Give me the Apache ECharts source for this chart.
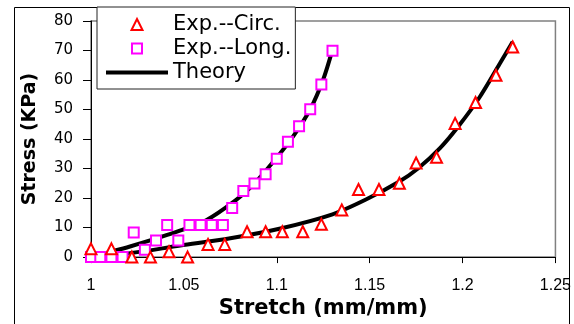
<!DOCTYPE html>
<html>
<head>
<meta charset="utf-8">
<script src="https://cdn.jsdelivr.net/npm/echarts@6/dist/echarts.min.js"></script>
<style>html,body{margin:0;padding:0;background:#fff}#c{width:574px;height:324px}</style>
</head>
<body>
<div id="c"></div>
<script>
// Tick labels / axis ranges
var xTicks = [1, 1.05, 1.1, 1.15, 1.2, 1.25];
var yTicks = [0, 10, 20, 30, 40, 50, 60, 70, 80];

// Exp.--Circ. (triangles)
var circX = [1.000, 1.011, 1.022, 1.032, 1.042, 1.052, 1.063, 1.072, 1.084, 1.094, 1.103, 1.114, 1.124, 1.135, 1.144, 1.155, 1.166, 1.175, 1.186, 1.196, 1.207, 1.218, 1.227];
var circY = [2.8, 2.8, 0, 0, 1.8, 0, 4.3, 4.3, 8.6, 8.6, 8.6, 8.6, 11.1, 16.0, 22.9, 22.9, 25.0, 31.9, 33.8, 45.3, 52.4, 61.6, 71.2];

// Exp.--Long. (squares)
var longX = [1.000, 1.005, 1.011, 1.017, 1.023, 1.029, 1.035, 1.041, 1.047, 1.053, 1.059, 1.065, 1.071, 1.076, 1.082, 1.088, 1.094, 1.100, 1.106, 1.112, 1.118, 1.124, 1.130];
var longY = [0, 0, 0, 0, 8.3, 2.5, 5.6, 10.9, 5.6, 10.9, 10.9, 10.9, 10.9, 16.6, 22.4, 24.9, 28.1, 33.3, 39.1, 44.3, 50.1, 58.5, 69.9];

// Theory curves
var thCircX = [1.000, 1.021, 1.048, 1.075, 1.102, 1.130, 1.148, 1.166, 1.176, 1.188, 1.198, 1.209, 1.220, 1.227];
var thCircY = [0, 1.3, 3.9, 6.4, 9.7, 14.5, 19.5, 25.6, 30.0, 37.0, 44.5, 54.0, 65.5, 73.0];
var thLongX = [1.000, 1.021, 1.041, 1.062, 1.078, 1.087, 1.098, 1.109, 1.118, 1.125, 1.130];
var thLongY = [0, 3.6, 7.5, 12.5, 19.3, 24.3, 32.2, 41.1, 50.1, 60.2, 70.3];

function zip(a, b) { return a.map(function (v, i) { return [v, b[i]]; }); }

var chart = echarts.init(document.getElementById('c'), null, {renderer: 'canvas'});
chart.setOption({
  animation: false,
  backgroundColor: '#fff',
  graphic: [{
    type: 'rect', left: 12, top: 5, z: -10,
    shape: {x: 0, y: 0, width: 555, height: 340},
    style: {fill: 'none', stroke: '#000', lineWidth: 1}
  }],
  grid: {left: 91, right: 18, top: 21, bottom: 65, show: true, borderColor: '#808080', borderWidth: 1.5, backgroundColor: 'transparent'},
  legend: {
    left: 97, top: 7, orient: 'vertical',
    data: [
      {name: 'Exp.--Circ.', icon: 'path://M0,0 M62,11 M31,0 L36.5,11 L25.5,11 Z', itemStyle: {color: '#fff', borderColor: '#ff0000', borderWidth: 2}},
      {name: 'Exp.--Long.', icon: 'path://M0,0 M62,11 M26,0.5 L36,0.5 L36,10.5 L26,10.5 Z', itemStyle: {color: '#fff', borderColor: '#ff00ff', borderWidth: 2}},
      {name: 'Theory', icon: 'path://M0,0 M62,11 M0,3.5 L62,3.5 L62,7.5 L0,7.5 Z', itemStyle: {color: '#000', borderWidth: 0}}
    ],
    backgroundColor: '#fff', borderColor: '#222', borderWidth: 1,
    padding: [7, 4, 6, 8],
    itemWidth: 62, itemHeight: 11, itemGap: 3, itemTextGap: 6,
    textStyle: {fontFamily: 'DejaVu Sans', fontSize: 21, color: '#000', lineHeight: 21}
  },
  xAxis: {
    type: 'value', min: xTicks[0], max: xTicks[xTicks.length - 1], interval: 0.05,
    name: 'Stretch (mm/mm)', nameLocation: 'middle', nameGap: 33,
    nameTextStyle: {fontFamily: 'DejaVu Sans', fontWeight: 'bold', fontSize: 21, color: '#000'},
    axisLine: {lineStyle: {color: '#000', width: 1}},
    axisTick: {inside: false, length: 6, lineStyle: {color: '#000'}},
    axisLabel: {margin: 20, fontFamily: 'Liberation Sans', fontSize: 16, color: '#000',
      formatter: function (v) { return String(+v.toFixed(2)); }},
    splitLine: {show: false}
  },
  yAxis: {
    type: 'value', min: yTicks[0], max: yTicks[yTicks.length - 1], interval: 10,
    name: 'Stress (KPa)', nameLocation: 'middle', nameGap: 51,
    nameTextStyle: {fontFamily: 'DejaVu Sans', fontWeight: 'bold', fontSize: 19, color: '#000'},
    axisLine: {lineStyle: {color: '#000', width: 1}},
    axisTick: {inside: false, length: 8, lineStyle: {color: '#000'}},
    axisLabel: {margin: 18, fontFamily: 'DejaVu Sans', fontSize: 15, color: '#000'},
    splitLine: {show: false}
  },
  series: [
    {name: 'Theory', type: 'line', data: zip(thCircX, thCircY), smooth: 0.3, showSymbol: false, symbol: 'none',
      lineStyle: {color: '#000', width: 4}, itemStyle: {color: '#000'}, z: 2},
    {name: 'Theory', type: 'line', data: zip(thLongX, thLongY), smooth: 0.3, showSymbol: false, symbol: 'none',
      lineStyle: {color: '#000', width: 4}, itemStyle: {color: '#000'}, z: 2},
    {name: 'Exp.--Circ.', type: 'scatter', data: zip(circX, circY), symbol: 'triangle', symbolSize: 11,
      itemStyle: {color: '#fff', borderColor: '#ff0000', borderWidth: 2, opacity: 1}, z: 5},
    {name: 'Exp.--Long.', type: 'scatter', data: zip(longX, longY), symbol: 'rect', symbolSize: 10,
      itemStyle: {color: '#fff', borderColor: '#ff00ff', borderWidth: 2, opacity: 1}, z: 4}
  ]
});
</script>
</body>
</html>
